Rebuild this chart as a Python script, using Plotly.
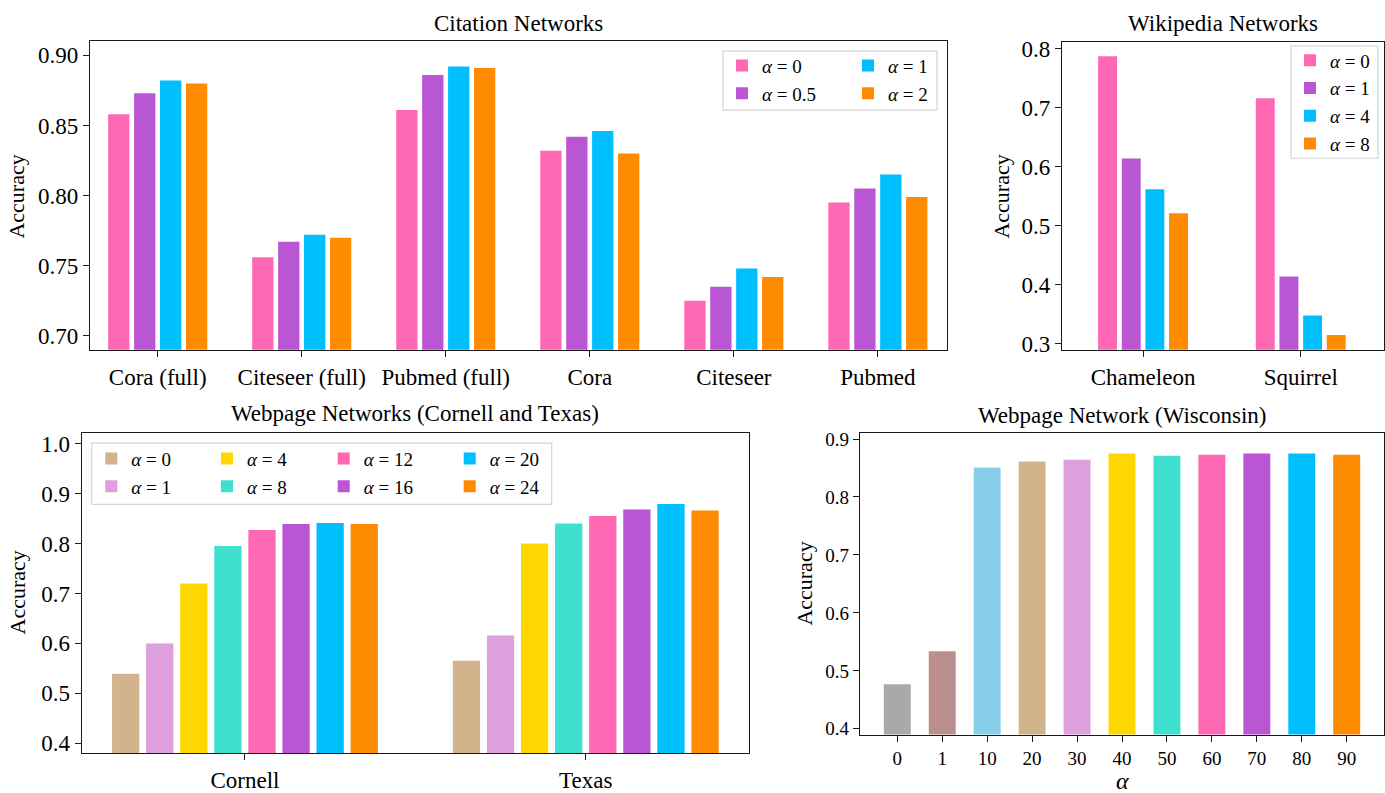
import plotly.graph_objects as go

# ---- data -------------------------------------------------------------
citation_datasets = ["Cora (full)", "Citeseer (full)", "Pubmed (full)", "Cora", "Citeseer", "Pubmed"]
citation_alpha_labels = ["0", "0.5", "1", "2"]
cit_alpha_0 = [0.858, 0.756, 0.861, 0.832, 0.725, 0.795]
cit_alpha_05 = [0.873, 0.767, 0.886, 0.842, 0.735, 0.805]
cit_alpha_1 = [0.882, 0.772, 0.892, 0.846, 0.748, 0.815]
cit_alpha_2 = [0.880, 0.770, 0.891, 0.830, 0.742, 0.799]

wiki_datasets = ["Chameleon", "Squirrel"]
wiki_alpha_labels = ["0", "1", "4", "8"]
wiki_alpha_0 = [0.787, 0.716]
wiki_alpha_1 = [0.614, 0.414]
wiki_alpha_4 = [0.562, 0.348]
wiki_alpha_8 = [0.521, 0.315]

web_datasets = ["Cornell", "Texas"]
web_alpha_labels = ["0", "1", "4", "8", "12", "16", "20", "24"]
web_alpha_0 = [0.539, 0.565]
web_alpha_1 = [0.600, 0.616]
web_alpha_4 = [0.720, 0.800]
web_alpha_8 = [0.795, 0.840]
web_alpha_12 = [0.827, 0.855]
web_alpha_16 = [0.839, 0.868]
web_alpha_20 = [0.841, 0.879]
web_alpha_24 = [0.839, 0.866]

wisc_alpha_labels = ["0", "1", "10", "20", "30", "40", "50", "60", "70", "80", "90"]
wisc_accuracy = [0.477, 0.534, 0.851, 0.861, 0.864, 0.875, 0.871, 0.873, 0.875, 0.875, 0.873]

# ---- style ------------------------------------------------------------
W, H = 1385, 793
FONT = "Liberation Serif, Times New Roman, serif"

cit_colors = ["#FF69B4", "#BA55D3", "#00BFFF", "#FF8C00"]
wiki_colors = ["#FF69B4", "#BA55D3", "#00BFFF", "#FF8C00"]
web_colors = ["#D2B48C", "#DDA0DD", "#FFD700", "#40E0D0",
              "#FF69B4", "#BA55D3", "#00BFFF", "#FF8C00"]
wisc_colors = ["#A9A9A9", "#BC8F8F", "#87CEEB", "#D2B48C", "#DDA0DD", "#FFD700",
               "#40E0D0", "#FF69B4", "#BA55D3", "#00BFFF", "#FF8C00"]


def fx(p):
    return p / W


def fy(p):
    return 1 - p / H


def alpha_name(v):
    return f"<i>α</i> = {v}"


fig = go.Figure()

# Citation networks: 4 grouped bars per dataset
cit_series = [cit_alpha_0, cit_alpha_05, cit_alpha_1, cit_alpha_2]
cit_legends = ["legend", "legend", "legend2", "legend2"]
slot, bw = 0.18, 0.148
for i, (lab, vals) in enumerate(zip(citation_alpha_labels, cit_series)):
    fig.add_trace(go.Bar(
        x=citation_datasets, y=vals, name=alpha_name(lab),
        marker=dict(color=cit_colors[i], line=dict(width=0)),
        width=bw, offset=-2 * slot + i * slot + (slot - bw) / 2,
        xaxis="x", yaxis="y", legend=cit_legends[i],
    ))

# Wikipedia networks
wiki_series = [wiki_alpha_0, wiki_alpha_1, wiki_alpha_4, wiki_alpha_8]
slot, bw = 0.15, 0.12
for i, (lab, vals) in enumerate(zip(wiki_alpha_labels, wiki_series)):
    fig.add_trace(go.Bar(
        x=wiki_datasets, y=vals, name=alpha_name(lab),
        marker=dict(color=wiki_colors[i], line=dict(width=0)),
        width=bw, offset=-2 * slot + i * slot + (slot - bw) / 2,
        xaxis="x2", yaxis="y2", legend="legend3",
    ))

# Webpage networks (Cornell and Texas)
web_series = [web_alpha_0, web_alpha_1, web_alpha_4, web_alpha_8,
              web_alpha_12, web_alpha_16, web_alpha_20, web_alpha_24]
web_legends = ["legend4", "legend4", "legend5", "legend5",
               "legend6", "legend6", "legend7", "legend7"]
slot, bw = 0.1, 0.08
for i, (lab, vals) in enumerate(zip(web_alpha_labels, web_series)):
    fig.add_trace(go.Bar(
        x=web_datasets, y=vals, name=alpha_name(lab),
        marker=dict(color=web_colors[i], line=dict(width=0)),
        width=bw, offset=-4 * slot + i * slot + (slot - bw) / 2,
        xaxis="x3", yaxis="y3", legend=web_legends[i],
    ))

# Webpage network (Wisconsin)
fig.add_trace(go.Bar(
    x=wisc_alpha_labels, y=wisc_accuracy, width=0.6,
    marker=dict(color=wisc_colors, line=dict(width=0)),
    xaxis="x4", yaxis="y4", showlegend=False,
))

axis_common = dict(
    showline=True, linecolor="#1a1a1a", linewidth=1.3, mirror=True,
    ticks="outside", ticklen=6, tickwidth=1.2, tickcolor="#1a1a1a",
    showgrid=False, zeroline=False, fixedrange=True,
)
big_tick = dict(family=FONT, size=23, color="black")
small_tick = dict(family=FONT, size=19, color="black")

fig.update_layout(
    width=W, height=H, autosize=False,
    margin=dict(l=0, r=0, t=0, b=0),
    paper_bgcolor="white", plot_bgcolor="white",
    font=dict(family=FONT, color="black"),
    barmode="group",
    xaxis=dict(domain=[fx(90), fx(947)], anchor="y", type="category",
               range=[-0.47, 5.48], tickfont=big_tick, **axis_common),
    yaxis=dict(domain=[fy(350), fy(36)], anchor="x", range=[0.690, 0.910],
               tickvals=[0.70, 0.75, 0.80, 0.85, 0.90], tickformat=".2f",
               tickfont=big_tick, **axis_common),
    xaxis2=dict(domain=[fx(1062), fx(1384)], anchor="y2", type="category",
                range=[-0.514, 1.528], tickfont=big_tick, **axis_common),
    yaxis2=dict(domain=[fy(350), fy(37)], anchor="x2", range=[0.290, 0.8105],
                tickvals=[0.3, 0.4, 0.5, 0.6, 0.7, 0.8], tickformat=".1f",
                tickfont=big_tick, **axis_common),
    xaxis3=dict(domain=[fx(81.7), fx(749)], anchor="y3", type="category",
                range=[-0.479, 1.479], tickfont=big_tick, **axis_common),
    yaxis3=dict(domain=[fy(760.7), fy(434.3)], anchor="x3", range=[0.380, 1.022],
                tickvals=[0.4, 0.5, 0.6, 0.7, 0.8, 0.9, 1.0], tickformat=".1f",
                tickfont=big_tick, **axis_common),
    xaxis4=dict(domain=[fx(860), fx(1384)], anchor="y4", type="category",
                range=[-0.83, 10.83], tickfont=small_tick, **axis_common),
    yaxis4=dict(domain=[fy(741.7), fy(434.3)], anchor="x4", range=[0.390, 0.911],
                tickvals=[0.4, 0.5, 0.6, 0.7, 0.8, 0.9], tickformat=".1f",
                tickfont=small_tick, **axis_common),
)

# legends: one per column, framed by a shared box
leg_font = dict(family=FONT, size=19, color="black")


def legend_at(cx, row1):
    return dict(x=fx(cx - 18), y=fy(row1 - 18.85), xanchor="left", yanchor="top",
                orientation="v", bgcolor="rgba(0,0,0,0)", borderwidth=0,
                font=leg_font, traceorder="normal", itemclick=False,
                itemdoubleclick=False)


fig.update_layout(
    legend=legend_at(740, 60.3),
    legend2=legend_at(866, 60.3),
    legend3=legend_at(1308, 55),
    legend4=legend_at(109.3, 460.3),
    legend5=legend_at(225, 460.3),
    legend6=legend_at(341.7, 460.3),
    legend7=legend_at(467.7, 460.3),
)

for (x0, x1, y0, y1) in [(723, 937, 46, 106), (1291, 1378, 40.7, 155), (91.7, 551.7, 445, 507.3)]:
    fig.add_shape(type="rect", xref="paper", yref="paper",
                  x0=fx(x0), x1=fx(x1), y0=fy(y1), y1=fy(y0),
                  line=dict(color="#d4d4d4", width=1.2),
                  fillcolor="rgba(255,255,255,0.8)", layer="above")

# titles and axis labels
title_font = dict(family=FONT, size=23, color="black")
label_font = dict(family=FONT, size=22, color="black")
texts = [
    ("Citation Networks", 518.5, 18, 0, title_font),
    ("Wikipedia Networks", 1223, 18, 0, title_font),
    ("Webpage Networks (Cornell and Texas)", 415.3, 415, 0, title_font),
    ("Webpage Network (Wisconsin)", 1122, 417, 0, title_font),
    ("Accuracy", 17, 194, -90, label_font),
    ("Accuracy", 1002, 194, -90, label_font),
    ("Accuracy", 17, 597, -90, label_font),
    ("Accuracy", 805, 588, -90, label_font),
    ("<i>α</i>", 1122, 789, 0, dict(family=FONT, size=24, color="black")),
]
for txt, x, y, ang, f in texts:
    fig.add_annotation(text=txt, x=fx(x), y=fy(y), xref="paper", yref="paper",
                       xanchor="center", yanchor="middle", showarrow=False,
                       textangle=ang, font=f)

fig.write_html("out.html")
